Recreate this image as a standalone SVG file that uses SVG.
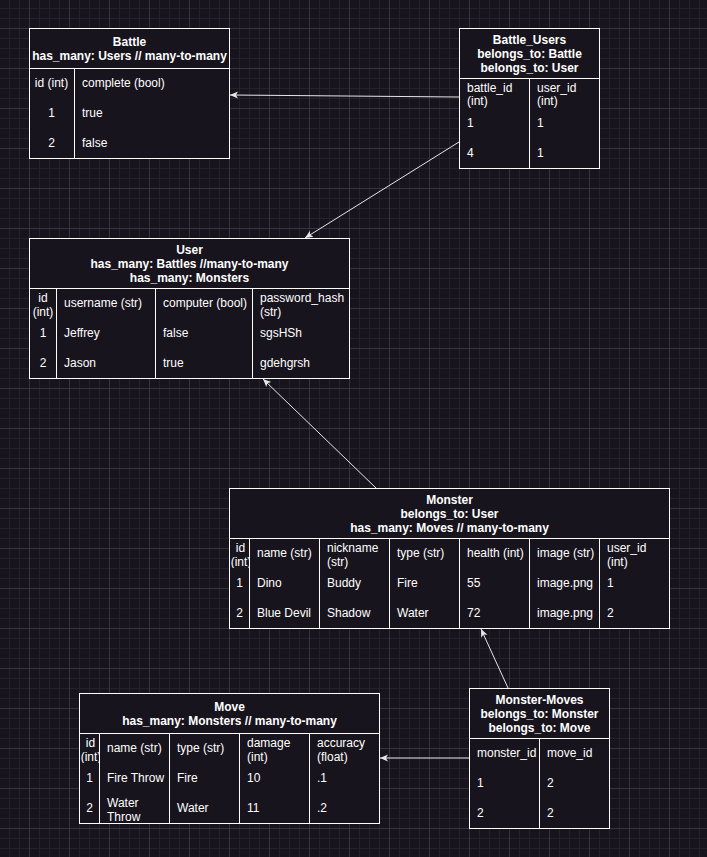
<svg xmlns="http://www.w3.org/2000/svg" width="707" height="857" viewBox="0 0 707 857">
<defs>
<style>
text{font-family:"Liberation Sans",Arial,Helvetica,sans-serif;font-size:12px;fill:#ffffff}
.t{font-weight:bold;text-anchor:middle}
.c{text-anchor:middle}
.box{fill:#18141d;stroke:#ffffff;stroke-width:1}
.ln{stroke:#ffffff;stroke-width:1;fill:none}
.edge{stroke:#e6e6e6;stroke-width:1;fill:none;marker-end:url(#arr)}
</style>
<pattern id="grid" width="40" height="40" x="29" y="28" patternUnits="userSpaceOnUse">
<rect width="40" height="40" fill="#18141d"/>
<path d="M10.5,0V40M20.5,0V40M30.5,0V40M0,10.5H40M0,20.5H40M0,30.5H40" stroke="#25212b" stroke-width="1"/>
<path d="M0.5,0V40M0,0.5H40" stroke="#38343e" stroke-width="1"/>
</pattern>
<marker id="arr" markerUnits="userSpaceOnUse" markerWidth="10" markerHeight="10" refX="8" refY="4" orient="auto" viewBox="0 0 10 8">
<path d="M0,0.5 L8,4 L0,7.5 L2,4 Z" fill="#e6e6e6"/>
</marker>
<clipPath id="clipMon"><rect x="230" y="539" width="19" height="29"/></clipPath>
<clipPath id="clipMove"><rect x="80" y="734" width="19" height="29"/></clipPath>
</defs>
<rect width="707" height="857" fill="url(#grid)"/>

<g id="connectors">
<path class="edge" d="M459,97 L230,95"/>
<path class="edge" d="M459,142 L305,238"/>
<path class="edge" d="M376,488 L263,379"/>
<path class="edge" d="M508,688 L481,629"/>
<path class="edge" d="M469,758 L380,758"/>
</g>

<g id="battle">
<rect class="box" x="29.5" y="28.5" width="200" height="130"/>
<path class="ln" d="M29.5,68.5H229.5M74.5,68.5V158.5"/>
<text class="t" x="129.5" y="46">Battle</text>
<text class="t" x="129.5" y="60">has_many: Users // many-to-many</text>
<text class="c" x="51.5" y="87">id (int)</text>
<text x="82" y="87">complete (bool)</text>
<text class="c" x="51.5" y="117">1</text>
<text x="82" y="117">true</text>
<text class="c" x="51.5" y="147">2</text>
<text x="82" y="147">false</text>
</g>

<g id="battle_users">
<rect class="box" x="459.5" y="28.5" width="140" height="140"/>
<path class="ln" d="M459.5,78.5H599.5M529.5,78.5V168.5"/>
<text class="t" x="529.5" y="44">Battle_Users</text>
<text class="t" x="529.5" y="58">belongs_to: Battle</text>
<text class="t" x="529.5" y="72">belongs_to: User</text>
<text x="467" y="92">battle_id</text>
<text x="467" y="105">(int)</text>
<text x="537" y="92">user_id</text>
<text x="537" y="105">(int)</text>
<text x="467" y="127">1</text>
<text x="537" y="127">1</text>
<text x="467" y="157">4</text>
<text x="537" y="157">1</text>
</g>

<g id="user">
<rect class="box" x="29.5" y="238.5" width="320" height="140"/>
<path class="ln" d="M29.5,288.5H349.5M56.5,288.5V378.5M155.5,288.5V378.5M252.5,288.5V378.5"/>
<text class="t" x="189.5" y="254">User</text>
<text class="t" x="189.5" y="268">has_many: Battles //many-to-many</text>
<text class="t" x="189.5" y="282">has_many: Monsters</text>
<text class="c" x="43" y="302">id</text>
<text class="c" x="43" y="316">(int)</text>
<text x="64" y="307">username (str)</text>
<text x="163" y="307">computer (bool)</text>
<text x="260" y="302">password_hash</text>
<text x="260" y="316">(str)</text>
<text class="c" x="43" y="337">1</text>
<text x="64" y="337">Jeffrey</text>
<text x="163" y="337">false</text>
<text x="260" y="337">sgsHSh</text>
<text class="c" x="43" y="367">2</text>
<text x="64" y="367">Jason</text>
<text x="163" y="367">true</text>
<text x="260" y="367">gdehgrsh</text>
</g>

<g id="monster">
<rect class="box" x="229.5" y="488.5" width="440" height="140"/>
<path class="ln" d="M229.5,538.5H669.5M249.5,538.5V628.5M319.5,538.5V628.5M389.5,538.5V628.5M459.5,538.5V628.5M529.5,538.5V628.5M599.5,538.5V628.5"/>
<text class="t" x="449.5" y="504">Monster</text>
<text class="t" x="449.5" y="518">belongs_to: User</text>
<text class="t" x="449.5" y="532">has_many: Moves // many-to-many</text>
<text class="c" x="240.5" y="552">id</text>
<text class="c" x="241" y="566" clip-path="url(#clipMon)">(int)</text>
<text x="257" y="557">name (str)</text>
<text x="327" y="552">nickname</text>
<text x="327" y="566">(str)</text>
<text x="397" y="557">type (str)</text>
<text x="467" y="557">health (int)</text>
<text x="537" y="557">image (str)</text>
<text x="607" y="552">user_id</text>
<text x="607" y="566">(int)</text>
<text class="c" x="239.5" y="587">1</text>
<text x="257" y="587">Dino</text>
<text x="327" y="587">Buddy</text>
<text x="397" y="587">Fire</text>
<text x="467" y="587">55</text>
<text x="537" y="587">image.png</text>
<text x="607" y="587">1</text>
<text class="c" x="239.5" y="617">2</text>
<text x="257" y="617">Blue Devil</text>
<text x="327" y="617">Shadow</text>
<text x="397" y="617">Water</text>
<text x="467" y="617">72</text>
<text x="537" y="617">image.png</text>
<text x="607" y="617">2</text>
</g>

<g id="move">
<rect class="box" x="79.5" y="693.5" width="300" height="130"/>
<path class="ln" d="M79.5,733.5H379.5M99.5,733.5V823.5M169.5,733.5V823.5M239.5,733.5V823.5M309.5,733.5V823.5"/>
<text class="t" x="229.5" y="711">Move</text>
<text class="t" x="229.5" y="725">has_many: Monsters // many-to-many</text>
<text class="c" x="90.5" y="747">id</text>
<text class="c" x="91" y="761" clip-path="url(#clipMove)">(int)</text>
<text x="107" y="752">name (str)</text>
<text x="177" y="752">type (str)</text>
<text x="247" y="747">damage</text>
<text x="247" y="761">(int)</text>
<text x="317" y="747">accuracy</text>
<text x="317" y="761">(float)</text>
<text class="c" x="89.5" y="782">1</text>
<text x="107" y="782">Fire Throw</text>
<text x="177" y="782">Fire</text>
<text x="247" y="782">10</text>
<text x="317" y="782">.1</text>
<text class="c" x="89.5" y="812">2</text>
<text x="107" y="807">Water</text>
<text x="107" y="821">Throw</text>
<text x="177" y="812">Water</text>
<text x="247" y="812">11</text>
<text x="317" y="812">.2</text>
</g>

<g id="monster_moves">
<rect class="box" x="469.5" y="688.5" width="140" height="140"/>
<path class="ln" d="M469.5,738.5H609.5M539.5,738.5V828.5"/>
<text class="t" x="539.5" y="704">Monster-Moves</text>
<text class="t" x="539.5" y="718">belongs_to: Monster</text>
<text class="t" x="539.5" y="732">belongs_to: Move</text>
<text x="477" y="757">monster_id</text>
<text x="547" y="757">move_id</text>
<text x="477" y="787">1</text>
<text x="547" y="787">2</text>
<text x="477" y="817">2</text>
<text x="547" y="817">2</text>
</g>
</svg>
